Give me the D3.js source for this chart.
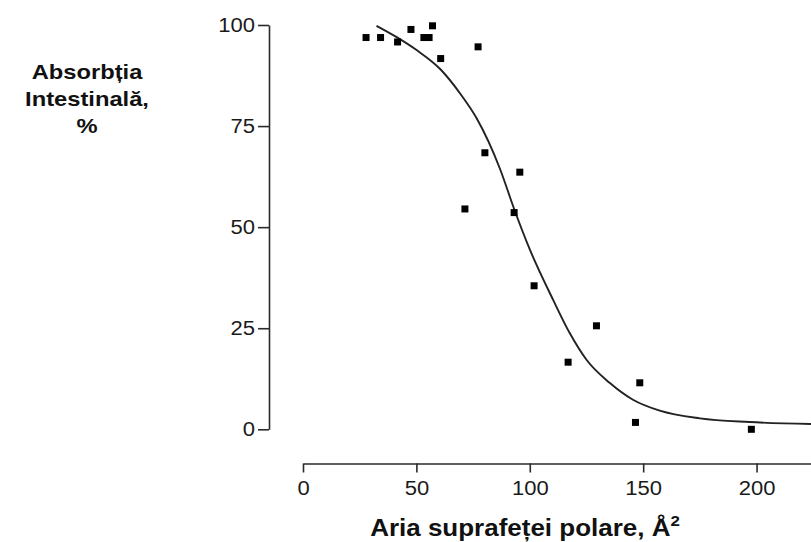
<!DOCTYPE html>
<html>
<head>
<meta charset="utf-8">
<script src="https://cdn.jsdelivr.net/npm/d3@7"></script>
<style>
  body { margin: 0; background: #fff; }
  svg { display: block; font-family: "Liberation Sans", Arial, sans-serif; }
  .tick text { fill: #1a1a1a; font-size: 19.5px; }
  .tick line, .domain { stroke: #2a2a2a; stroke-width: 1.6px; }
  .lbl { font-weight: bold; fill: #111; }
</style>
</head>
<body>
<div id="chart"></div>
<script>
// measured points: polar surface area (Å²) vs intestinal absorption (%)
const psa = [27.8, 34.2, 41.7, 47.6, 53.3, 55.6, 57.1, 60.7, 77.2, 80.2,
             95.6, 71.4, 93.1, 101.9, 129.4, 116.9, 148.5, 146.6, 197.7];
const absorption = [96.9, 96.9, 95.8, 98.9, 96.9, 96.9, 99.8, 91.7, 94.6, 68.4,
                    63.6, 54.5, 53.6, 35.5, 25.6, 16.6, 11.5, 1.7, 0.0];

// fitted sigmoid
const fitX = [32.4, 41.3, 50.1, 60.7, 70, 76.5, 86.8, 93.1, 100, 110.3,
              117.6, 125, 135.2, 145.5, 157.3, 175, 196.9, 224];
const fitY = [99.8, 97.0, 93.8, 89.0, 82.5, 77.0, 64.5, 54.5, 44.5, 32.0,
              23.8, 17.2, 11.5, 7.3, 4.6, 2.7, 1.8, 1.3];

const xTicks = [0, 50, 100, 150, 200];
const yTicks = [0, 25, 50, 75, 100];

const width = 811, height = 542;
const stretch = 1.13;   // lettering in the source is a bit wider than Arial

const svg = d3.select('#chart').append('svg')
    .attr('width', width)
    .attr('height', height);

const xScale = d3.scaleLinear().domain([0, 224]).range([303, 811]);
const yScale = d3.scaleLinear().domain([0, 100]).range([429.3, 25]);

// y axis
svg.append('g')
    .attr('class', 'y-axis')
    .attr('transform', 'translate(269,0)')
    .call(d3.axisLeft(yScale).tickValues(yTicks).tickSize(11).tickSizeOuter(0).tickPadding(3))
    .call(g => g.selectAll('.tick text')
        .attr('font-family', null).attr('font-size', null)
        .attr('x', -14 / stretch)
        .attr('transform', `scale(${stretch},1)`));

// x axis sits below the plot, detached
svg.append('g')
    .attr('class', 'x-axis')
    .attr('transform', 'translate(0,463.5)')
    .call(d3.axisBottom(xScale).tickValues(xTicks).tickSize(9).tickSizeOuter(0).tickPadding(9))
    .call(g => g.selectAll('.tick text')
        .attr('font-family', null).attr('font-size', null)
        .attr('transform', `scale(${stretch},1)`));

svg.selectAll('.domain').attr('fill', 'none');

// fitted curve
const pts = fitX.map((v, i) => [v, fitY[i]]);
svg.append('path')
    .datum(pts)
    .attr('fill', 'none')
    .attr('stroke', '#222')
    .attr('stroke-width', 1.9)
    .attr('d', d3.line()
        .x(d => xScale(d[0]))
        .y(d => yScale(d[1]))
        .curve(d3.curveMonotoneX));

// data squares
const sq = 7;
svg.selectAll('.dot')
    .data(psa.map((v, i) => ({ x: v, y: absorption[i] })))
    .enter()
    .append('rect')
    .attr('class', 'dot')
    .attr('x', d => xScale(d.x) - sq / 2)
    .attr('y', d => yScale(d.y) - sq / 2)
    .attr('width', sq)
    .attr('height', sq)
    .attr('fill', '#000');

// y label (three lines)
const yLabel = svg.append('g')
    .attr('transform', `translate(87,0) scale(${stretch},1)`)
    .append('text')
    .attr('class', 'lbl')
    .attr('text-anchor', 'middle')
    .attr('font-size', '21px');
['Absorbția', 'Intestinală,', '%'].forEach((t, i) => {
    yLabel.append('tspan')
        .attr('x', 0)
        .attr('y', 79 + i * 27)
        .text(t);
});

// x label with superscript
const xLabel = svg.append('g')
    .attr('transform', `translate(525,536) scale(${stretch},1)`)
    .append('text')
    .attr('class', 'lbl')
    .attr('text-anchor', 'middle')
    .attr('font-size', '23px');
xLabel.append('tspan').text('Aria suprafeței polare,  Å');
xLabel.append('tspan')
    .attr('dy', -10)
    .attr('font-size', '15px')
    .text('2');
</script>
</body>
</html>
